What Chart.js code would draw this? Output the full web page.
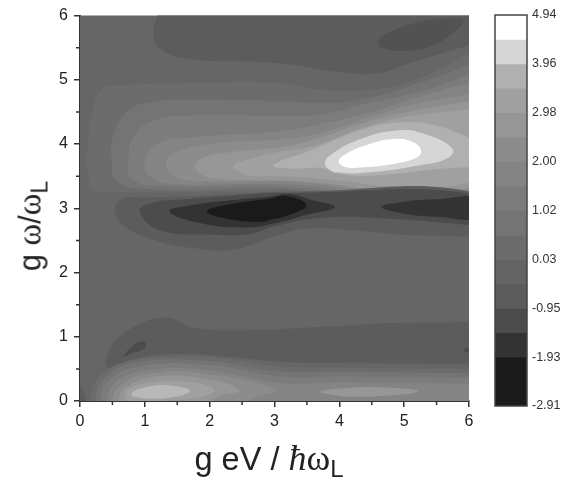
<!DOCTYPE html>
<html>
<head>
<meta charset="utf-8">
<title>contour</title>
<script src="https://cdn.jsdelivr.net/npm/chart.js@4"></script>
<style>
    body { margin: 0; background: #fff; }
    #wrap { position: relative; width: 577px; height: 485px; overflow: hidden; }
    canvas { position: absolute; top: 0; filter: blur(0.4px); }
    .axisTitle { position: absolute; font: 32.5px "Liberation Sans", sans-serif; color: #222; white-space: nowrap; transform-origin: center; }
    .axisTitle .serif { font-family: "Liberation Serif", serif; font-size: 36px; }
    .axisTitle .sub { font-size: 24px; position: relative; top: 7px; }
    #yTitle { font-size: 30.5px; }
    #yTitle .serif { font-size: 33px; }
    #yTitle .sub { font-size: 23px; }
</style>
</head>
<body>
<div id="wrap">
    <canvas id="plot" width="577" height="485" style="left:0"></canvas>
    <canvas id="bar" width="97" height="485" style="left:480px"></canvas>
    <div class="axisTitle" style="left:269px;top:458px;transform:translate(-50%,-50%)">g eV / <span class="serif"><i>ħ</i>ω</span><span class="sub">L</span></div>
    <div class="axisTitle" id="yTitle" style="left:30px;top:226px;transform:translate(-50%,-50%) rotate(-90deg)">g <span class="serif">ω</span>/<span class="serif">ω</span><span class="sub">L</span></div>
</div>
<script>
// axis ticks
const xTicks = [0, 1, 2, 3, 4, 5, 6];
const yTicks = [0, 1, 2, 3, 4, 5, 6];
const minorTicks = [0.5, 1.5, 2.5, 3.5, 4.5, 5.5];

// colour bar
const barLevels = [4.94, 4.45, 3.96, 3.47, 2.98, 2.49, 2.00, 1.51, 1.02, 0.52, 0.03, -0.46, -0.95, -1.44, -1.93, -2.42, -2.91];
const barGrays = ['#ffffff', '#d6d6d6', '#b0b0b0', '#a0a0a0', '#969696', '#8c8c8c', '#848484', '#7c7c7c', '#747474', '#6c6c6c', '#646464', '#5c5c5c', '#4c4c4c', '#333333', '#1a1a1a', '#1a1a1a'];
const barTicks = ['4.94', '3.96', '2.98', '2.00', '1.02', '0.03', '-0.95', '-1.93', '-2.91'];

// contour outlines in plot coordinates (x, y)
const background = [[-0.2, -0.2], [-0.2, 6.2], [6.2, 6.2], [6.2, -0.2]];
const topDark = [[1.27, 6.2], [1.18, 5.95], [1.13, 5.72], [1.23, 5.49], [1.64, 5.33], [3.08, 5.26], [3.96, 5.13], [4.57, 5.10], [5.08, 5.26], [6, 5.54], [6.2, 5.6], [6.2, 6.2]];
const topCore = [[4.60, 5.59], [4.78, 5.74], [5.24, 5.90], [5.85, 5.96], [5.91, 5.90], [5.70, 5.69], [5.39, 5.51], [4.98, 5.45], [4.67, 5.49]];
const lobe1 = [[0.13, 3.46], [0.11, 3.87], [0.21, 4.59], [0.36, 4.87], [0.72, 4.92], [1.74, 4.95], [3.08, 4.95], [3.6, 4.86], [4.47, 4.85], [5.24, 5.03], [6, 5.41], [6.2, 5.5], [6.2, 3.2], [3, 3.24], [0.4, 3.26], [0.19, 3.3]];
const lobe2 = [[0.49, 3.72], [0.51, 4.13], [0.77, 4.54], [1.23, 4.67], [1.74, 4.69], [3.08, 4.67], [3.85, 4.64], [4.47, 4.72], [5.24, 4.95], [6, 5.23], [6.2, 5.32], [6.2, 3.25], [3, 3.3], [0.9, 3.31], [0.54, 3.46]];
const lobe3 = [[0.74, 3.72], [0.85, 4.15], [1.18, 4.38], [1.74, 4.45], [3.08, 4.44], [3.7, 4.46], [4.47, 4.64], [5.24, 4.82], [6, 5.08], [6.2, 5.18], [6.2, 3.29], [3, 3.34], [1.2, 3.35], [0.79, 3.46]];
const lobe4 = [[1, 3.72], [1.18, 4], [1.64, 4.1], [3.08, 4.2], [3.7, 4.31], [4.47, 4.49], [5.24, 4.74], [6, 4.95], [6.2, 5], [6.2, 3.32], [3, 3.38], [1.4, 3.38], [1.08, 3.49]];
const lobe5 = [[1.33, 3.72], [1.54, 3.9], [2.26, 4.03], [3.08, 4.07], [3.7, 4.17], [4.47, 4.42], [5.24, 4.64], [6, 4.78], [6.2, 4.84], [6.2, 3.35], [3, 3.42], [1.7, 3.43], [1.44, 3.51]];
const lobe6 = [[1.78, 3.69], [2, 3.82], [3.08, 3.95], [3.7, 4.1], [4.47, 4.36], [5.24, 4.54], [6, 4.67], [6.2, 4.72], [6.2, 3.39], [3, 3.44], [2.1, 3.46], [1.85, 3.54]];
const lobe7 = [[2.36, 3.66], [2.62, 3.77], [3.08, 3.88], [3.6, 3.97], [4.47, 4.29], [5.24, 4.46], [6, 4.54], [6.2, 4.58], [6.2, 3.46], [3, 3.5], [2.7, 3.5], [2.46, 3.56]];
const lobe8 = [[2.98, 3.67], [3.55, 3.9], [4.37, 4.23], [4.98, 4.34], [5.49, 4.29], [6, 4.1], [6.2, 4.0], [6.2, 3.55], [6, 3.64], [4.47, 3.51], [3.96, 3.54], [3.78, 3.62], [3.6, 3.63], [3.24, 3.62]];
const lobe9 = [[3.78, 3.72], [3.85, 3.82], [4.26, 4.05], [4.88, 4.21], [5.34, 4.15], [5.75, 3.92], [5.65, 3.77], [5.24, 3.67], [4.47, 3.56], [3.96, 3.56], [3.8, 3.64]];
const peak = [[3.99, 3.73], [4.11, 3.85], [4.47, 4], [4.83, 4.08], [5.14, 4.03], [5.26, 3.9], [5.19, 3.79], [4.83, 3.69], [4.37, 3.64], [4.11, 3.64]];
const dark1 = [[0.54, 3], [0.67, 3.15], [1.03, 3.17], [2, 3.2], [3.3, 3.26], [6.2, 3.22], [6.2, 2.55], [6, 2.56], [4.98, 2.59], [4.21, 2.66], [3.5, 2.68], [3.08, 2.59], [2.36, 2.36], [1.74, 2.38], [1.13, 2.51], [0.67, 2.74]];
const dark2 = [[0.92, 2.95], [1.1, 3.08], [1.6, 3.14], [2.4, 3.2], [3.2, 3.24], [6.2, 3.2], [6.2, 2.72], [6, 2.74], [4.72, 2.84], [3.7, 2.85], [3, 2.72], [2.6, 2.6], [2.1, 2.59], [1.23, 2.66]];
const dark3 = [[1.38, 2.95], [1.74, 3.05], [2.36, 3.13], [2.93, 3.18], [3.24, 3.22], [3.6, 3.12], [3.93, 3.02], [3.5, 2.9], [2.93, 2.75], [2.56, 2.70], [1.85, 2.77]];
const darkCore = [[1.96, 2.95], [2.36, 3.07], [2.93, 3.15], [3.19, 3.19], [3.49, 3.05], [3.24, 2.9], [2.93, 2.82], [2.82, 2.79], [2.36, 2.82]];
const darkRight = [[4.65, 3.02], [4.98, 3.1], [5.49, 3.14], [6.2, 3.15], [6.2, 2.86], [5.49, 2.87], [4.98, 2.92]];
const lowDark = [[0.41, 0.69], [0.67, 1.05], [1.31, 1.30], [1.74, 1.15], [2.36, 1.10], [3.85, 1.16], [4.72, 1.21], [6, 1.23], [6.2, 1.24], [6.2, 0.3], [0.8, 0.3], [0.46, 0.48]];
const lowSpot = [[0.68, 0.69], [0.79, 0.84], [0.95, 0.93], [1.02, 0.87], [0.95, 0.79], [0.79, 0.74]];
const edgeSpot = [[5.91, 0.79], [6, 0.83], [6.2, 0.85], [6.2, 0.73], [6, 0.75]];
const cornerDark = [[-0.2, 0.3], [0, 0.22], [0.08, 0.08], [0.12, -0.2], [-0.2, -0.2]];
const base1 = [[0.08, -0.2], [0.08, 0], [0.26, 0.33], [0.46, 0.48], [0.82, 0.65], [1.49, 0.73], [2.26, 0.69], [3.08, 0.61], [3.96, 0.59], [6, 0.57], [6.2, 0.57], [6.2, -0.2]];
const base2 = [[0.15, -0.2], [0.15, 0], [0.28, 0.36], [0.72, 0.61], [1.49, 0.69], [2.26, 0.66], [3.08, 0.54], [4, 0.52], [6, 0.5], [6.2, 0.5], [6.2, -0.2]];
const base3 = [[0.23, -0.2], [0.23, 0], [0.36, 0.33], [0.82, 0.59], [2, 0.62], [3.08, 0.46], [4, 0.46], [6, 0.43], [6.2, 0.43], [6.2, -0.2]];
const base4 = [[0.31, -0.2], [0.31, 0], [0.44, 0.31], [0.92, 0.54], [2, 0.56], [3.08, 0.38], [4, 0.38], [6, 0.36], [6.2, 0.36], [6.2, -0.2]];
const base5 = [[0.41, -0.2], [0.41, 0], [0.54, 0.28], [1.03, 0.48], [2, 0.48], [3.08, 0.28], [4, 0.29], [6, 0.27], [6.2, 0.27], [6.2, -0.2]];
const hump1 = [[0.49, -0.1], [0.49, 0], [0.62, 0.25], [1.08, 0.43], [1.90, 0.43], [3.03, 0.17], [2.67, 0.05], [2.5, -0.1]];
const hump2 = [[0.59, -0.1], [0.59, 0], [0.69, 0.2], [1.13, 0.37], [1.85, 0.36], [2.46, 0.17], [2.10, 0.05], [1.95, -0.1]];
const hump3 = [[0.69, 0.07], [0.77, 0.2], [1.18, 0.3], [1.74, 0.29], [2.08, 0.17], [1.90, 0.07], [1.23, 0], [0.77, 0]];
const humpCore = [[0.79, 0.11], [1.08, 0.23], [1.49, 0.23], [1.70, 0.16], [1.49, 0.07], [1.03, 0.04]];
const rightHump = [[3.69, 0.15], [4.21, 0.21], [4.72, 0.21], [5.21, 0.16], [4.98, 0.10], [4.21, 0.07], [3.80, 0.11]];

// painted from the back to the front
const contourOutlines = [background, topDark, topCore, lobe1, lobe2, lobe3, lobe4, lobe5, lobe6, lobe7, lobe8, lobe9, peak, dark1, dark2, dark3, darkCore, darkRight, lowDark, lowSpot, edgeSpot, cornerDark, base1, base2, base3, base4, base5, hump1, hump2, hump3, humpCore, rightHump];
const contourGrays = ['#666666', '#5c5c5c', '#525252', '#6c6c6c', '#747474', '#7c7c7c', '#848484', '#8c8c8c', '#969696', '#a0a0a0', '#b0b0b0', '#d6d6d6', '#ffffff', '#5c5c5c', '#4c4c4c', '#333333', '#1a1a1a', '#333333', '#5c5c5c', '#4c4c4c', '#4c4c4c', '#5c5c5c', '#666666', '#6c6c6c', '#747474', '#7c7c7c', '#848484', '#8c8c8c', '#969696', '#a0a0a0', '#b8b8b8', '#969696'];

const axisFont = { family: 'Liberation Sans', size: 16 };

// repeat the first points so the curve also runs smoothly through the start of the outline
function closeOutline(outline) {
    return outline.concat(outline.slice(0, 3)).map(p => ({ x: p[0], y: p[1] }));
}

const minorTickPlugin = {
    id: 'minorTicks',
    afterDraw(chart) {
        const ctx = chart.ctx;
        ctx.save();
        ctx.strokeStyle = '#333';
        ctx.lineWidth = 1.5;
        ctx.beginPath();
        minorTicks.forEach(v => {
            const px = chart.scales.x.getPixelForValue(v);
            const py = chart.scales.y.getPixelForValue(v);
            ctx.moveTo(px, chart.chartArea.bottom);
            ctx.lineTo(px, chart.chartArea.bottom + 4);
            ctx.moveTo(chart.chartArea.left, py);
            ctx.lineTo(chart.chartArea.left - 4, py);
        });
        ctx.stroke();
        ctx.restore();
    }
};

new Chart(document.getElementById('plot'), {
    type: 'scatter',
    data: {
        datasets: contourOutlines.map((outline, i) => ({
            data: closeOutline(outline),
            showLine: true,
            fill: 'shape',
            backgroundColor: contourGrays[i],
            borderWidth: 0,
            pointRadius: 0,
            tension: 0.45,
            order: contourOutlines.length - i
        }))
    },
    options: {
        responsive: false,
        animation: false,
        layout: { padding: { top: 12, right: 108 } },
        plugins: { legend: { display: false }, tooltip: { enabled: false } },
        scales: {
            x: {
                type: 'linear',
                min: 0,
                max: 6,
                afterBuildTicks: scale => { scale.ticks = xTicks.map(v => ({ value: v })); },
                afterFit: scale => { scale.height = 84; },
                ticks: { font: axisFont, color: '#222', padding: 5, maxRotation: 0 },
                border: { color: '#333', width: 2 },
                grid: { drawOnChartArea: false, tickLength: 6, color: '#333', lineWidth: 1.5 }
            },
            y: {
                type: 'linear',
                min: 0,
                max: 6,
                afterBuildTicks: scale => { scale.ticks = yTicks.map(v => ({ value: v })); },
                afterFit: scale => { scale.width = 80; },
                ticks: { font: axisFont, color: '#222', padding: 6 },
                border: { color: '#333', width: 2 },
                grid: { drawOnChartArea: false, tickLength: 6, color: '#333', lineWidth: 1.5 }
            }
        }
    },
    plugins: [minorTickPlugin]
});

const framePlugin = {
    id: 'frame',
    afterDraw(chart) {
        const a = chart.chartArea;
        chart.ctx.save();
        chart.ctx.strokeStyle = '#444';
        chart.ctx.lineWidth = 1.5;
        chart.ctx.strokeRect(a.left, a.top, a.width, a.height);
        chart.ctx.restore();
    }
};

new Chart(document.getElementById('bar'), {
    type: 'bar',
    data: {
        labels: [''],
        datasets: barGrays.map((gray, i) => ({
            data: [[barLevels[i + 1], barLevels[i]]],
            backgroundColor: gray,
            grouped: false,
            barPercentage: 1,
            categoryPercentage: 1
        }))
    },
    options: {
        responsive: false,
        animation: false,
        layout: { padding: { top: 15, left: 15, bottom: 79 } },
        plugins: { legend: { display: false }, tooltip: { enabled: false } },
        scales: {
            x: { display: false },
            y: {
                position: 'right',
                min: -2.91,
                max: 4.94,
                afterBuildTicks: scale => { scale.ticks = barTicks.map(t => ({ value: Number(t) })); },
                afterFit: scale => { scale.width = 50; },
                ticks: {
                    font: { family: 'Liberation Sans', size: 12.5 },
                    color: '#333',
                    padding: -3,
                    autoSkip: false,
                    callback: value => barTicks.find(t => Number(t) === value)
                },
                border: { display: false },
                grid: { display: false }
            }
        }
    },
    plugins: [framePlugin]
});
</script>
</body>
</html>
